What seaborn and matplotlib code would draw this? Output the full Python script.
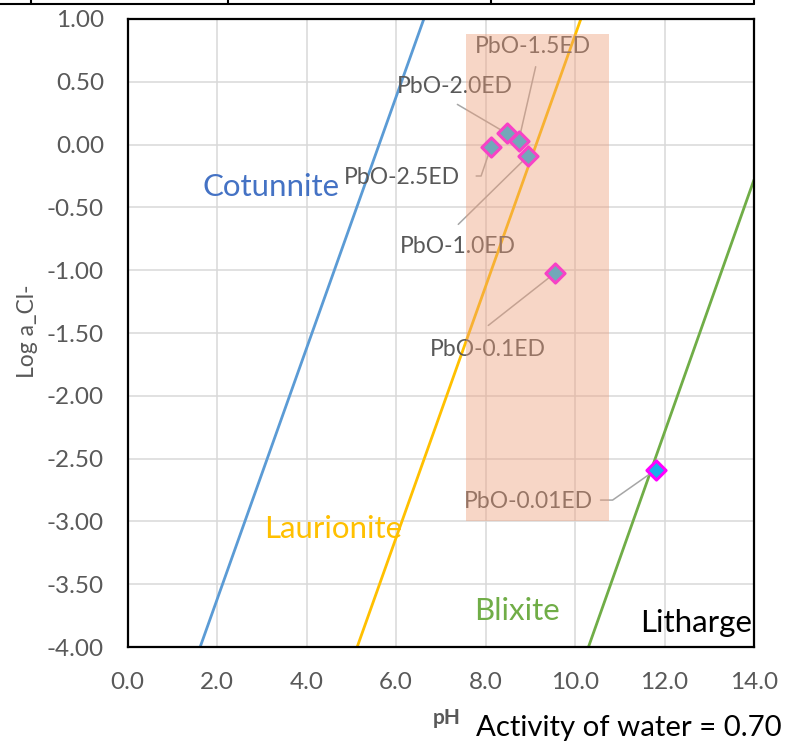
import matplotlib
matplotlib.use("Agg")
import matplotlib.pyplot as plt
from matplotlib.lines import Line2D
from matplotlib.patches import Rectangle
import numpy as np
import pandas as pd
import seaborn as sns

# ---- phase boundaries (pH vs log a_Cl-) ----
cotunnite_ph = [1.62, 6.62]
cotunnite_logcl = [-4.00, 1.00]
laurionite_ph = [5.13, 10.13]
laurionite_logcl = [-4.00, 1.00]
blixite_ph = [10.30, 14.00]
blixite_logcl = [-4.00, -0.28]

# ---- sample points ----
sample_names = ["PbO-2.0ED", "PbO-1.5ED", "PbO-1.0ED", "PbO-2.5ED", "PbO-0.1ED", "PbO-0.01ED"]
sample_ph = [8.47, 8.74, 8.95, 8.12, 9.56, 11.80]
sample_logcl = [0.09, 0.03, -0.09, -0.02, -1.02, -2.59]

# ---- tick labels ----
x_ticks = [0.0, 2.0, 4.0, 6.0, 8.0, 10.0, 12.0, 14.0]
y_ticks = [1.00, 0.50, 0.00, -0.50, -1.00, -1.50, -2.00, -2.50, -3.00, -3.50, -4.00]

# ---- highlighted pH window ----
window_ph = [7.57, 10.77]
window_logcl = [-3.00, 0.88]

sns.set_theme(style="white")
plt.rcParams["font.family"] = ["Lato", "DejaVu Sans"]

fig = plt.figure(figsize=(7.92, 7.45), dpi=100)
ax = fig.add_axes([0.1612, 0.1315, 0.7908, 0.8430])

boundaries = pd.concat([
    pd.DataFrame({"pH": cotunnite_ph, "logCl": cotunnite_logcl, "b": "Cotunnite"}),
    pd.DataFrame({"pH": laurionite_ph, "logCl": laurionite_logcl, "b": "Laurionite"}),
    pd.DataFrame({"pH": blixite_ph, "logCl": blixite_logcl, "b": "Blixite"}),
])
palette = {"Cotunnite": "#5B9BD5", "Laurionite": "#FFC000", "Blixite": "#70AD47"}
sns.lineplot(data=boundaries, x="pH", y="logCl", hue="b", palette=palette,
             linewidth=2.0, legend=False, ax=ax, zorder=3, sort=False)

samples = pd.DataFrame({"name": sample_names, "pH": sample_ph, "logCl": sample_logcl})
sns.scatterplot(data=samples, x="pH", y="logCl", marker="D", s=95,
                color="#1AAEE8", edgecolor="#FF00FF", linewidth=2.2,
                ax=ax, zorder=6, legend=False)

# data-label placement (label centre, leader path start)
label_layout = {
    "PbO-1.5ED": ((9.07, 0.78), [(9.12, 0.62)]),
    "PbO-2.0ED": ((7.32, 0.46), [(7.37, 0.32)]),
    "PbO-2.5ED": ((6.14, -0.26), [(7.79, -0.25), (7.90, -0.25)]),
    "PbO-1.0ED": ((7.37, -0.81), [(7.39, -0.635)]),
    "PbO-0.1ED": ((8.06, -1.63), [(8.06, -1.44)]),
    "PbO-0.01ED": ((8.96, -2.84), [(10.57, -2.83), (10.84, -2.83)]),
}
for name, px, py in zip(sample_names, sample_ph, sample_logcl):
    (tx, ty), path = label_layout[name]
    xs = [p[0] for p in path] + [px]
    ys = [p[1] for p in path] + [py]
    ax.plot(xs, ys, color="#A6A6A6", lw=1.1, zorder=5)
    ax.text(tx, ty, name, ha="center", va="center", fontsize=16.5,
            color="#595959", zorder=7)

# translucent pH window drawn over the data
ax.add_patch(Rectangle((window_ph[0], window_logcl[0]),
                       window_ph[1] - window_ph[0], window_logcl[1] - window_logcl[0],
                       facecolor="#EE9E78", alpha=0.42, edgecolor="none", zorder=8))

# field names
ax.text(3.2, -0.34, "Cotunnite", color="#4472C4", fontsize=22.5, ha="center", va="center", zorder=9)
ax.text(4.6, -3.06, "Laurionite", color="#FFC000", fontsize=22.5, ha="center", va="center", zorder=9)
ax.text(8.71, -3.71, "Blixite", color="#70AD47", fontsize=22.5, ha="center", va="center", zorder=9)
ax.text(13.95, -3.81, "Litharge", color="black", fontsize=22.5, ha="right", va="center", zorder=9)

ax.set_xlim(0, 14)
ax.set_ylim(-4, 1)
ax.set_xticks(x_ticks)
ax.set_xticklabels([f"{v:.1f}" for v in x_ticks])
ax.set_yticks(y_ticks)
ax.set_yticklabels([f"{v:.2f}" for v in y_ticks])
ax.tick_params(axis="both", length=0, labelsize=17.5, labelcolor="#595959")
ax.tick_params(axis="x", pad=18)
ax.tick_params(axis="y", pad=17)
ax.grid(True, color="#D9D9D9", lw=1.1, zorder=0)
ax.set_axisbelow(True)
for sp in ax.spines.values():
    sp.set_visible(True)
    sp.set_color("black")
    sp.set_linewidth(1.6)
    sp.set_zorder(10)

ax.set_xlabel("")
ax.set_ylabel("")
fig.text(28 / 792, 1 - 331 / 745, "Log a_Cl-", rotation=90, ha="center", va="center",
         fontsize=16.5, color="#595959")
fig.text(447 / 792, 1 - 718 / 745, "pH", ha="center", va="center",
         fontsize=15, color="#595959", fontweight="bold")
fig.text(782 / 792, 1 - 728 / 745, "Activity of water = 0.70", ha="right", va="center",
         fontsize=21.2, color="black")

# table rule along the top edge
ytop = 1 - 3.5 / 745
fig.add_artist(Line2D([0, 754 / 792], [ytop, ytop], transform=fig.transFigure,
                      color="black", lw=1.5))
for xv in (31, 228, 491, 754):
    fig.add_artist(Line2D([xv / 792, xv / 792], [ytop, 1.0], transform=fig.transFigure,
                          color="black", lw=1.5))

fig.savefig("out.png", dpi=100)
